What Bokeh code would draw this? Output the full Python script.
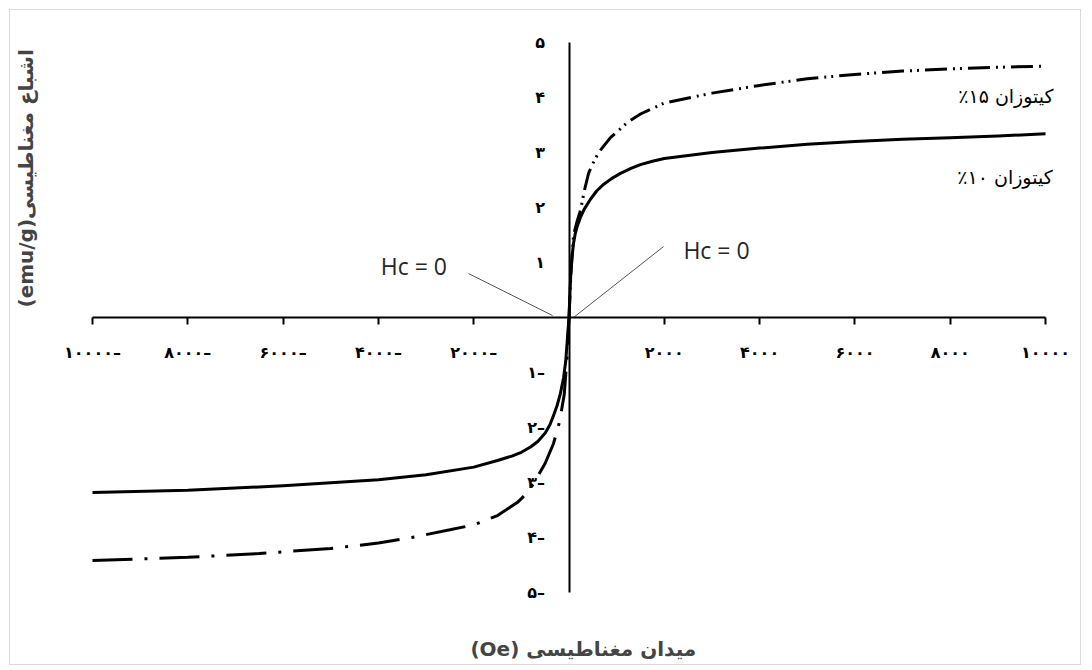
from bokeh.plotting import figure
from bokeh.models import Range1d, LinearAxis, FixedTicker, Label
from bokeh.embed import file_html
from bokeh.resources import INLINE
import math

# ---------------- data ----------------
x_ticks = [-10000, -8000, -6000, -4000, -2000, 2000, 4000, 6000, 8000, 10000]
x_tick_labels = ["۱۰۰۰۰–", "۸۰۰۰–", "۶۰۰۰–", "۴۰۰۰–", "۲۰۰۰–",
                 "۲۰۰۰", "۴۰۰۰", "۶۰۰۰", "۸۰۰۰", "۱۰۰۰۰"]
y_ticks = [-5, -4, -3, -2, -1, 1, 2, 3, 4, 5]
y_tick_labels = ["۵–", "۴–", "۳–", "۲–", "۱–", "۱", "۲", "۳", "۴", "۵"]

# chitosan 10% (solid)
c10_x = [-10000, -8000, -6000, -4000, -3000, -2000, -1500, -1200, -1000, -800, -650, -500, -400, -325, -250,
         -180, -115, -70, -35, 0,
         20, 40, 60, 95, 130, 180, 240, 320, 450, 580, 724, 900, 1080, 1300, 1500, 1750, 2000,
         3000, 4000, 5000, 6000, 7000, 8000, 9000, 10000]
c10_y = [-3.18, -3.14, -3.06, -2.95, -2.86, -2.72, -2.60, -2.52, -2.45, -2.35, -2.25, -2.10, -1.95, -1.78, -1.60,
         -1.38, -1.10, -0.80, -0.40, 0.0,
         0.45, 0.85, 1.08, 1.35, 1.52, 1.68, 1.82, 1.97, 2.15, 2.30, 2.42, 2.53, 2.62, 2.71, 2.78, 2.84, 2.89,
         3.00, 3.08, 3.15, 3.20, 3.24, 3.27, 3.30, 3.34]

# chitosan 15% (dash-dot), negative branch
c15n_x = [-10000, -8000, -6500, -5000, -4000, -3300, -2500, -2000, -1500, -1080, -870, -745, -500, -325, -200, -100, -40, 0]
c15n_y = [-4.42, -4.36, -4.29, -4.20, -4.10, -4.00, -3.86, -3.77, -3.60, -3.36, -3.18, -3.02, -2.65, -2.29, -1.90, -1.40, -0.70, 0.0]
# chitosan 15% (dash-dot), positive branch
c15p_x = [0, 40, 95, 170, 241, 320, 410, 490, 620, 870, 1230, 1500, 2000, 3000, 4000, 5000, 6000, 7000, 8000, 9000, 10000]
c15p_y = [0.0, 0.80, 1.50, 1.75, 1.95, 2.30, 2.62, 2.78, 3.00, 3.27, 3.55, 3.70, 3.90, 4.08, 4.22, 4.34, 4.42, 4.48, 4.52, 4.55, 4.57]

series_labels = ["٪۱۵ کیتوزان", "٪۱۰ کیتوزان"]
series_label_x = [10170, 10150]
series_label_y = [4.02, 2.56]

hc_text = "Hc = 0"
hc_text_x = [-3950, 2400]
hc_text_y = [0.93, 1.22]
hc_line_x0 = [-2110, 94]
hc_line_y0 = [0.80, 0.0]
hc_line_x1 = [-346, 1984]
hc_line_y1 = [0.036, 1.29]

x_title = "(Oe) میدان مغناطیسی"
y_title = "(emu/g)اشباع مغناطیسی"

# ---------------- figure ----------------
# the plotting frame fills the whole canvas; axes are bounded to the data span
p = figure(width=1072, height=656,
           x_range=Range1d(-11721, 10776), y_range=Range1d(-6.345, 5.582),
           output_backend="svg", toolbar_location=None,
           x_axis_type=None, y_axis_type=None,
           min_border_left=0, min_border_right=0,
           min_border_top=0, min_border_bottom=0)
p.outline_line_color = None
p.background_fill_color = "white"
p.border_fill_color = "white"
p.styles = {"border": "1px solid #d9d9d9", "margin-left": "9px", "margin-top": "9px"}

xaxis = LinearAxis(fixed_location=0, bounds=(-10000, 10000),
                   ticker=FixedTicker(ticks=x_ticks),
                   major_label_overrides={t: l for t, l in zip(x_ticks, x_tick_labels)},
                   axis_line_width=2, axis_line_color="black",
                   major_tick_out=7, major_tick_in=0, major_tick_line_width=2,
                   minor_tick_out=0, minor_tick_in=0,
                   major_label_standoff=18,
                   major_label_text_font="DejaVu Sans",
                   major_label_text_font_style="bold",
                   major_label_text_font_size="16px",
                   major_label_text_color="black")
p.add_layout(xaxis, "below")

yaxis = LinearAxis(fixed_location=0, bounds=(-5, 5),
                   ticker=FixedTicker(ticks=y_ticks),
                   major_label_overrides={t: l for t, l in zip(y_ticks, y_tick_labels)},
                   axis_line_width=2, axis_line_color="black",
                   major_tick_out=0, major_tick_in=0,
                   minor_tick_out=0, minor_tick_in=0,
                   major_label_standoff=24,
                   major_label_text_font="DejaVu Sans",
                   major_label_text_font_style="bold",
                   major_label_text_font_size="16px",
                   major_label_text_color="black")
p.add_layout(yaxis, "left")

# curves
p.line(c10_x, c10_y, line_width=3, line_color="black", line_join="round")
p.line(c15n_x, c15n_y, line_width=3, line_color="black", line_dash="40 12 3 12")
p.line(c15p_x, c15p_y, line_width=3, line_color="black", line_dash="22 6 2 5 2 6")

# Hc leader lines
p.segment(hc_line_x0, hc_line_y0, hc_line_x1, hc_line_y1, line_color="#555555", line_width=1)

for tx, ty in zip(hc_text_x, hc_text_y):
    p.add_layout(Label(x=tx, y=ty, text=hc_text, text_font="Open Sans",
                       text_font_size="23px", text_color="#262626",
                       text_align="left", text_baseline="middle"))

for s, tx, ty in zip(series_labels, series_label_x, series_label_y):
    p.add_layout(Label(x=tx, y=ty, text=s, text_font="DejaVu Sans",
                       text_font_size="19px", text_color="black",
                       text_align="right", text_baseline="middle"))

p.add_layout(Label(x=300, y=-6.02, text=x_title, text_font="DejaVu Sans",
                   text_font_size="20px", text_font_style="bold",
                   text_align="center", text_baseline="middle"))
p.add_layout(Label(x=-11400, y=2.53, text=y_title, text_font="DejaVu Sans",
                   text_font_size="20px", text_font_style="bold",
                   angle=math.pi / 2,
                   text_align="center", text_baseline="middle"))

open("out.html", "w").write(file_html(p, INLINE))
